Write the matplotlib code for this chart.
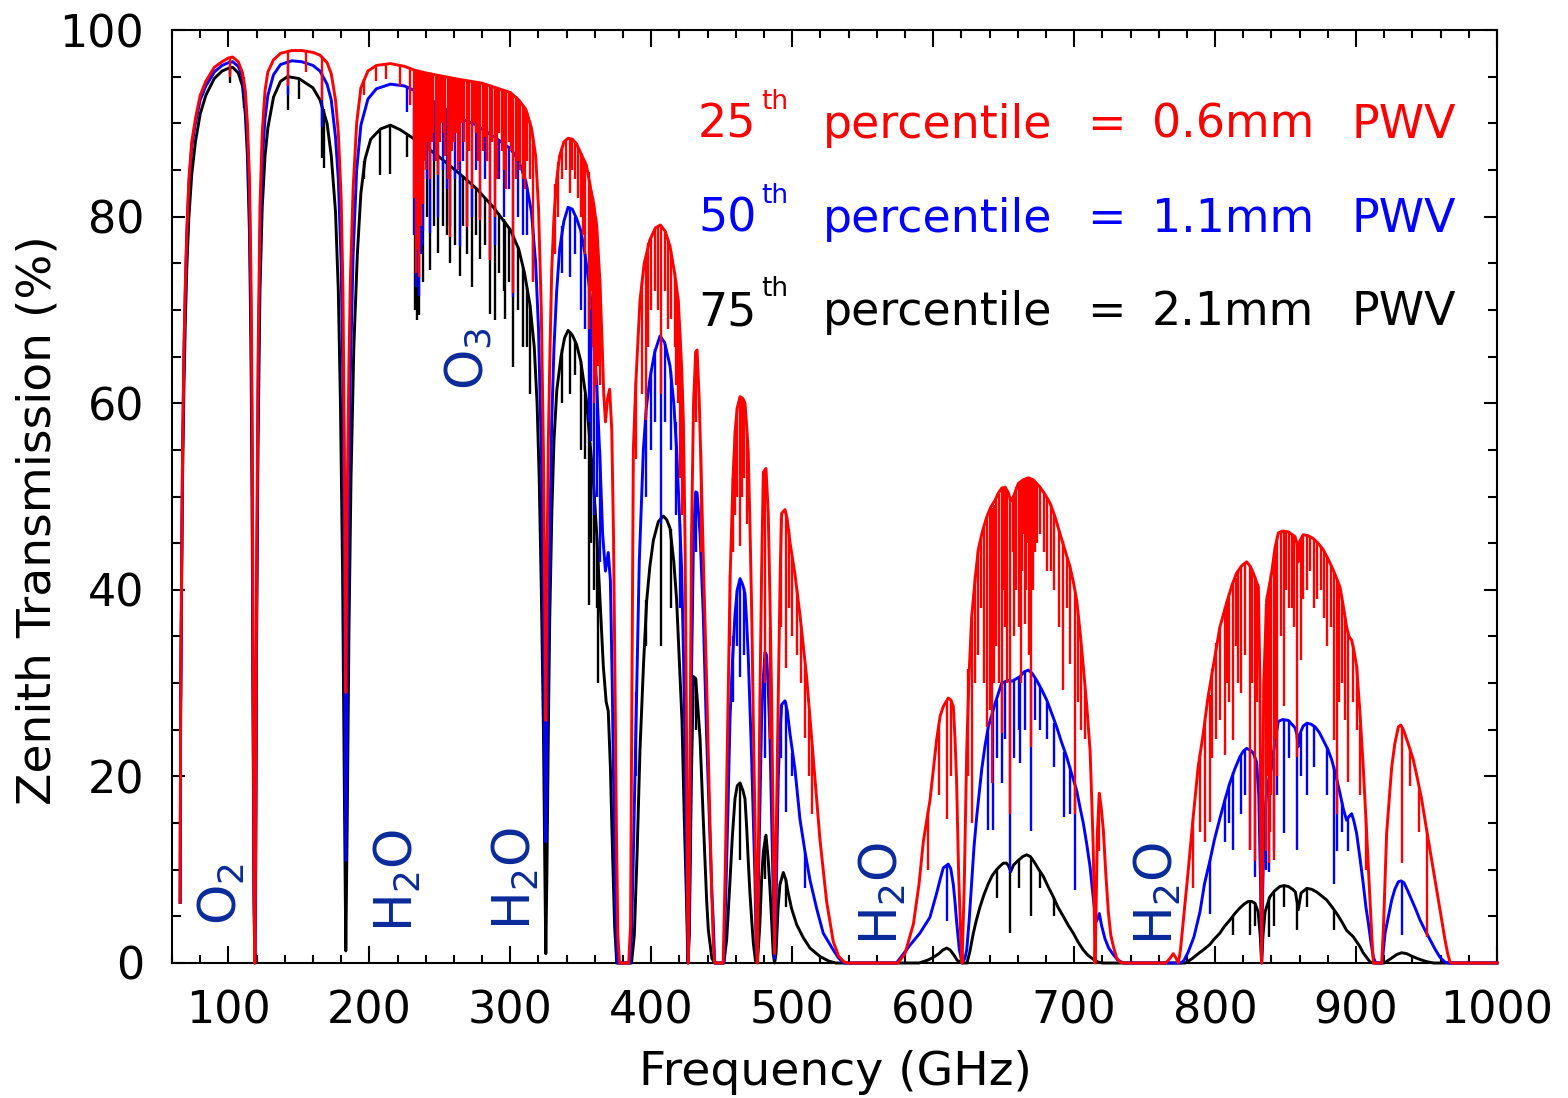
import matplotlib
matplotlib.use("Agg")
import matplotlib.pyplot as plt
from matplotlib.ticker import MultipleLocator

plt.rcParams['font.family'] = ['DejaVu Sans']
plt.rcParams['mathtext.default'] = 'regular'

# ---------------- data (frequency GHz, transmission %) ----------------
red_pts = [(65.8,6.5),(66.1,27),(66.8,42),(67.5,55),(68.5,66),(69.5,73),(70.5,78.5),(72,84),(74,88),(76.6,90.5),(80,93),(84,94.5),(90,96),(95.5,96.6),(100,97.0),(103,97.1),(107,96.6),(110,95.4),(112,93.5),(113.5,90),(115,84),(116,74),(116.8,60),(117.5,35),(118.2,10),(118.75,0),(119.3,12),(120,40),(121,64),(122.4,81),(124,89),(126,93.5),(128,95.5),(132,96.8),(137,97.5),(145,97.8),(152,97.8),(160,97.6),(165,97.3),(170,96.5),(173,95.3),(176,92.5),(178,89),(180,82),(181.3,72),(182.3,55),(183.0,38),(183.3,29),(183.7,38),(184.5,52),(185.5,64),(186.5,73),(188.5,83),(191,90),(194,93.8),(199,95.6),(205,96.2),(215,96.4),(225,96.1),(232,95.7),(240,95.4),(250,95.1),(264,94.7),(280,94.3),(290,93.8),(300,93.3),(306,92.5),(311,91.5),(315,89.5),(318,86.5),(320,81),(322,70),(323.5,55),(324.5,38),(325.2,26),(326,42),(327,56),(328.2,66),(329.4,74.3),(331,80),(332.9,83.9),(335,86.5),(338,88),(341,88.4),(344,88.3),(347,87.8),(350,86.8),(354,85.5),(357,83),(359,81.5),(361.3,79),(363.6,73),(365,67),(366.3,61),(367.5,58),(369,60.5),(370.5,61.5),(372,57),(373.2,46),(374.3,30),(375.3,14),(376.3,3),(377.5,0),(384,0),(385.3,4),(386.3,30),(387.3,55),(389,62),(392,71),(395,75),(399,77.5),(403,78.8),(406.5,79.1),(410,78.4),(413.3,76.8),(416.5,74),(419.2,71),(421.5,64),(422.8,58),(424,45),(425,25),(425.8,5),(426.3,0),(427,10),(428.5,45),(430,60),(431.5,65.5),(432.5,65.7),(434,60.5),(435.5,52),(437.5,40),(439.3,30),(441,19),(442.5,10),(444,2),(445,0),(451,0),(452.5,10),(454.5,28),(456,41.6),(458,52),(459.5,57),(461,59.5),(463,60.7),(465,60.5),(466.5,60),(467.7,57.5),(468.8,54.8),(470,47),(471.3,37.3),(472.5,25),(473.6,15),(474.5,3),(475.2,0),(476,12),(477.1,28.5),(478.3,42),(479.5,52.6),(481.4,53),(483,48.2),(484.2,39),(485.4,28.5),(486.6,13),(487.5,1),(488.5,12),(490.1,28.5),(491.5,42),(492.5,48.2),(494.9,48.6),(496.5,47.5),(498.4,45.1),(502,41.6),(505.5,37.3),(510.2,30.7),(515,21.9),(519.7,13.2),(524.4,6.6),(529.1,2.3),(533,0.7),(537,0.1),(540,0),(575,0),(580,1),(586,4.2),(590,8.5),(593,13),(597.7,17.4),(602.5,24),(605,26.5),(607.2,27.5),(610.7,28.4),(612.5,28.2),(614.3,27.5),(615.5,24),(616.6,19.6),(618,10),(619.5,3),(620.5,0),(622,8),(623.8,22.8),(625.5,31),(627.3,37.1),(630,41.5),(632,44.3),(635,46.3),(638,47.8),(641,48.9),(643.9,49.6),(646,50.3),(648.6,50.9),(651,51),(653.3,50.4),(655,49.5),(657,50),(660.4,51.4),(664,51.8),(667.5,52),(671,51.8),(675.8,51),(679,50.3),(682.9,49.3),(686.5,47.8),(690,46),(694,44),(697,42.5),(699.5,40.8),(701.8,38.9),(704.2,35.5),(706.5,31.8),(709,27.5),(711.3,22.8),(712.5,17.5),(713.6,12.1),(714.3,5),(714.8,0),(715.5,5),(716.5,14),(717.9,18.2),(719.3,16.5),(720.7,14.3),(722.5,9.5),(724.3,5.4),(726,3),(727.8,1.8),(730,0.6),(732.5,0.1),(735,0),(765,0),(768,0.5),(770.3,1.0),(772,0.6),(774,0),(775.5,1.5),(777.5,4.6),(781,10),(784.5,15.7),(788,21),(791.6,24.6),(795,28.5),(798.7,31.8),(803.4,36),(808.2,38.6),(812,40.5),(815.3,41.8),(819,42.6),(822.4,43),(825,42.5),(827.1,41.8),(829,41),(830.7,40.3),(831.8,30),(832.5,10),(833,0),(833.6,10),(834.5,30),(836.6,38.9),(840.1,41.8),(842.5,44.5),(844.9,46.1),(848,46.3),(852,46.2),(856.7,45.7),(858,45),(859,43),(860,45.2),(862.5,45.9),(866,45.8),(869.6,45.5),(873,45),(876.7,44.3),(879.5,43.5),(882.7,42.5),(885.5,41.5),(888.6,40.3),(891,38.2),(893.3,36),(895,35),(896.9,34.6),(898.5,33.5),(900.4,31.8),(902.7,27),(905.1,21),(907,15.5),(908.7,10.3),(910,6.5),(911.1,3.1),(912.3,0),(918.2,0),(919.5,4),(920.6,9),(921.7,13.9),(923.5,17.5),(925.3,21),(927.5,23.5),(930,25.3),(931.8,25.5),(933.6,25.0),(937,23.5),(940.6,21.8),(943.5,19.8),(946.6,17.5),(949.5,14.8),(952.5,12.1),(955.5,9.4),(958.4,6.75),(961,4.4),(963.1,2.5),(965,1),(966.7,0.1),(968,0),(1000,0)]

blue_pts = [(65.8,6.5),(66.1,27),(66.8,42),(67.5,55),(68.5,65.5),(69.5,72.5),(70.5,78),(72,83.5),(74,87.5),(76.6,90),(80,92.5),(84,94),(90,95.5),(95.5,96.2),(100,96.5),(103,96.6),(107,96.1),(110,95),(112,92.5),(113.5,88.5),(115,81),(116,70),(116.8,55),(117.5,30),(118.2,8),(118.75,0),(119.3,10),(120,38),(121,60),(122.4,77),(124,86),(126,90.5),(128,93),(132,95.2),(137,96.3),(145,96.7),(152,96.6),(160,96.2),(165,95.6),(170,94.2),(173,92.5),(176,88.5),(178,84),(180,75),(181.3,62),(182.3,42),(183.0,20),(183.3,11),(183.7,20),(184.5,38),(185.5,52),(186.5,63),(188.5,76),(191,85),(194,89.8),(199,92.6),(205,93.7),(215,94.2),(225,94.0),(232,93.5),(240,92.9),(250,91.9),(264,90.6),(276,89.8),(288,88.6),(300,87.3),(306,86),(311,83.8),(315,80.5),(318,75),(320,68),(322,55),(323.5,38),(324.5,22),(325.2,13),(326,25),(327,37),(328.2,47),(329.4,58),(331,66),(332.9,72),(335,76.5),(338,79.5),(341,81),(344,80.8),(347,79.8),(350,78.5),(353,76),(356.5,72),(359,67),(361.3,62),(363.6,54),(365.5,46),(367.5,42),(369.5,44),(371,41),(372.3,30),(373.5,17),(374.7,6),(376,0),(385,0),(386,3),(387.5,13),(389.6,29),(391.5,43),(394.4,55),(396.5,59.5),(399.1,62.7),(402.5,65.5),(406.2,67.2),(409.5,66.5),(413.3,64),(416,60),(418,55),(420,48),(421.6,42),(423,32),(424,22.8),(425.2,8),(426.2,0),(427,5),(428.5,30),(430,46),(431.5,50.5),(432.5,50.4),(434.6,46),(436.9,37.3),(439.3,24.1),(441.7,13.2),(443,7.5),(444,4.5),(445,0),(451.5,0),(453,8),(454.5,17),(455.9,26.3),(457.5,32),(459.4,37.3),(461,40),(463,41.2),(465,40.5),(466.5,39.6),(467.7,36.5),(468.8,32.9),(470,27.5),(471.2,22),(472.5,15),(473.6,8.9),(474.5,1),(475.5,5),(477,16),(478.3,26.3),(479.5,30.5),(480.7,33.3),(481.8,33),(483,29.5),(484.2,24.1),(485.5,15),(486.7,7),(487.5,0.5),(488.5,6),(490.1,19.8),(491.3,24.5),(492.5,27.7),(494.9,28.1),(496.5,27),(498.4,24.6),(502,20.7),(505.5,15.4),(509.1,11.9),(512.6,8.9),(517.4,5.8),(522,3.2),(529.1,1.4),(533,0.5),(537,0),(574,0),(578,0.8),(583.5,1.9),(590.6,3.2),(597.7,4.9),(602.5,7.5),(605,9),(607.2,10.2),(610.7,10.6),(612.5,10.1),(614.3,8.4),(615.5,6.5),(616.6,4.5),(618.5,1.5),(620.5,0),(622.5,0.5),(623.8,1.4),(625.5,4.5),(627.3,8.6),(629,12.5),(630.9,15.7),(634.4,20.7),(636.8,23.3),(639.1,25.3),(643.9,27.8),(648.6,30),(653.3,30.3),(656,30.2),(661.6,30.7),(664.5,31.2),(667.5,31.4),(670.5,31),(673.4,30.3),(677,29.3),(680.5,28.2),(684,26.8),(687.6,25.3),(691,23.7),(694.7,22.1),(698,20.4),(701.8,18.5),(704,16.8),(706.5,15),(709,12.7),(711.3,10.3),(713,7.8),(714.8,5.3),(716,4.5),(717.9,5.3),(719.5,4),(721.9,2.6),(724.5,1.6),(727.8,0.9),(731,0.3),(735,0),(776,0),(778,0.3),(781,1.2),(785,2.8),(789.3,5.5),(792.5,8.5),(796.4,11),(799.5,13.2),(803.4,15.5),(807,17.5),(810.5,19.3),(814,20.8),(817.6,22.1),(820,22.7),(822.4,23),(825,22.8),(827.1,22.5),(829.5,21.5),(831,18),(832.3,8),(833,0),(833.8,8),(835,15),(836.6,18.5),(840.1,21),(842.5,23.8),(844.9,25.9),(848,26.1),(852,26),(856.8,25.2),(858,24.5),(859,23.2),(860,24.5),(862.5,25.4),(865.1,25.7),(868,25.6),(871,25.3),(874,24.7),(876.7,23.9),(880,22.9),(882.7,21.8),(885.5,20.2),(888.6,18.2),(891,16.5),(893.3,15.3),(895,15.7),(896.9,16),(898.5,15.2),(900.4,13.9),(903,11),(905.1,8.5),(907,6),(908.7,4.3),(910.5,2.3),(912.3,0.6),(914,0),(918.5,0),(920.6,3.2),(923,5),(925.3,6.75),(927.5,7.9),(930,8.7),(932,8.8),(934,8.6),(936.5,7.8),(939.5,6.75),(942.5,5.7),(945.4,4.6),(949,3.5),(952.5,2.5),(956,1.5),(959.6,0.6),(963,0.1),(966,0),(1000,0)]

black_pts = [(65.8,6.5),(66.1,26),(66.8,40),(67.5,52),(68.5,62),(69.5,69),(70.5,74.5),(72,80),(74,84.5),(76.6,88),(80,91),(84,93),(90,94.8),(95.5,95.6),(100,95.9),(103,96),(107,95.4),(110,94),(112,91),(113.5,86.5),(115,78),(116,66),(116.8,50),(117.5,26),(118.2,6),(118.75,0),(119.3,8),(120,34),(121,55),(122.4,72),(124,81),(126,86.5),(128,89.5),(132,92.8),(137,94.5),(142,95.0),(150,94.8),(160,93.8),(165,92.5),(170,90),(173,86.5),(176,80.5),(178,72),(179.5,60),(181,42),(182.3,18),(183.3,1.3),(184.3,15),(185.5,35),(187,52),(189,66),(191.5,76),(194,82.5),(197,86.2),(201,88.3),(208,89.4),(215,89.8),(222,89.3),(230,88.5),(240,87.5),(252,86.1),(264,84.6),(276,83),(288,81),(300,78.6),(306,76.5),(310,74),(314,70.5),(317,66),(319,60),(320.5,52),(322,40),(323.5,25),(324.5,10),(325.2,1),(326,10),(327,25),(328,37),(329.5,48.5),(331,56),(333,61.4),(336,65),(338.5,67),(341,67.8),(344,67.3),(347,66.3),(350,64.5),(354,60.3),(357,55),(359,51.5),(361.3,46),(363.6,39),(366,31.8),(368,28),(369.5,27),(371,21),(372.5,12),(374,4),(375.5,0),(386,0),(388,3),(390,12),(392,22.8),(394.5,32),(396.8,38.9),(399,42.5),(401.5,45.3),(405,47.3),(408.6,47.9),(411,47.5),(413.3,46.6),(416,43),(418,38.9),(420,32),(421.8,26),(423.5,15),(425,6.7),(426,0),(427,3),(428.5,20),(429.9,30.7),(431.5,30.5),(433,27.5),(434.6,24.1),(436.9,15.4),(439.3,6.7),(440.5,3.5),(441.5,2.3),(443,0.5),(445,0),(451.5,0),(453.5,2.5),(455.9,8.9),(457.5,13.5),(459.4,17.6),(461,19),(463,19.3),(465,18.5),(466.5,17.6),(467.7,14.5),(468.8,11),(470,7.5),(471.3,4.5),(472.5,2),(474,0.2),(475.5,0.5),(477,4),(478.3,9),(479.5,11.9),(481.4,13.7),(483,11),(484.2,8),(485.4,4.5),(486.5,1),(487.5,0),(488.5,1),(490,6),(491.3,8.4),(493.7,9.7),(495.5,8.9),(497,7.6),(499.6,5.8),(503.2,4.1),(507.9,2.7),(512.6,1.6),(519.7,0.7),(526,0.2),(531,0),(590,0),(596,0.3),(600,0.6),(604,1),(607,1.4),(609.5,1.6),(612,1.4),(614.5,0.9),(617,0.3),(620.5,0),(624,0),(626,1.2),(628.5,3.2),(630.5,4.5),(633.2,6),(636,7.3),(639.1,8.5),(642,9.4),(645,10),(647.5,10.4),(649.8,10.7),(652,10.7),(653.5,10.4),(655,9.8),(657,10.5),(660.4,11),(663.5,11.4),(666.3,11.6),(669,11.4),(672.2,10.7),(675,10),(678.1,9.3),(681.5,8.2),(685.2,7.1),(688.5,6),(692.3,5),(696,4),(699.4,3.2),(703,2.2),(706.5,1.4),(710,0.8),(713.6,0.4),(717,0.1),(720,0),(779,0),(784,0.5),(788,1),(791.6,1.4),(796.4,2),(799,2.5),(803.4,3.2),(806.5,3.9),(810.5,4.6),(814,5.3),(817.6,5.9),(820.5,6.3),(823.5,6.6),(826,6.6),(828.3,6.4),(830.5,5.5),(832,3),(833,0),(834,3),(835.5,5.5),(838.9,7.1),(842,7.7),(846,8.2),(849,8.3),(852,8.2),(855,7.9),(857,7.6),(859,5.7),(861,7.5),(865.1,8),(868.5,7.9),(872.2,7.6),(875.5,7.2),(879.2,6.75),(882.5,6.1),(886.3,5.3),(890,4.4),(893.3,3.5),(898.1,2.8),(902.8,1.75),(905,1.1),(907.5,0.6),(910,0.1),(912,0),(920,0),(924,0.4),(928.8,0.9),(932.3,1.1),(936,1.0),(940,0.7),(945,0.4),(950,0.15),(955,0),(1000,0)]

# narrow absorption lines: (frequency, bottom %, top %)
red_lines = [(101.5,95.0,97.0),(142.5,94.0,97.7),(155.0,95.5,97.8),(166.2,92.5,97.2),
(196.0,93.0,94.8),(205.0,94.5,96.2),(212.0,94.8,96.4),(222.0,94.0,96.2),(228.5,92.0,96.0),
(232.0,82.0,95.8),(233.3,74.0,95.7),(234.3,76.5,95.6),(235.2,73.5,95.6),(236.3,79.0,95.5),(237.3,82.0,95.5),(238.3,81.4,95.4),(239.5,86.0,95.4),(240.2,85.0,95.4),(241.0,88.0,95.3),(242.0,87.0,95.3),(243.0,84.0,95.3),(244.2,88.0,95.2),(245.5,89.0,95.2),(247.0,86.0,95.2),(248.9,84.5,95.1),(250.0,88.0,95.1),(251.5,90.0,95.1),(253.0,89.0,95.0),(254.0,86.5,95.0),(255.5,84.0,95.0),(257.2,77.8,95.0),(258.5,87.0,94.9),(260.0,88.0,94.9),(261.5,89.0,94.9),(263.0,85.0,94.8),(264.5,86.0,94.7),(266.0,90.0,94.6),(267.5,88.0,94.6),(269.0,78.9,94.5),(270.8,87.0,94.5),(272.6,83.0,94.4),(274.0,90.0,94.4),(275.5,89.0,94.4),(277.0,86.0,94.3),(278.5,79.6,94.3),(280.3,87.0,94.2),(282.0,88.5,94.1),(283.8,86.0,94.0),(285.6,75.3,93.9),(287.3,88.0,93.9),(289.1,80.0,93.8),(290.5,84.0,93.8),(292.0,89.0,93.7),(293.8,87.0,93.6),(295.5,85.0,93.5),(297.2,83.0,93.4),(299.0,88.0,93.4),(300.5,87.0,93.2),(302.1,71.8,93.0),(303.8,84.0,92.9),(305.5,86.0,92.6),(307.2,85.0,92.3),(309.0,84.0,91.9),(310.5,83.0,91.6),(312.0,86.0,91.2),(314.0,84.0,90.2),(316.3,73.0,88.5),
(332.0,76.0,83.5),(334.0,80.0,85.8),(337.0,84.0,87.5),(339.5,85.0,88.2),(342.0,82.5,88.4),(344.0,85.0,88.3),(346.0,84.0,87.9),(348.0,82.0,87.5),(350.0,80.0,86.8),(351.5,78.0,86.2),(353.0,76.0,85.8),(355.5,68.0,84.8),(356.5,70.0,83.7),(357.5,72.0,82.8),(358.5,66.0,82.0),(359.5,60.0,81.0),(360.5,62.0,80.0),(361.5,66.0,78.5),(362.5,64.0,76.0),(363.5,62.0,73.3),
(389.5,54.0,62.5),(393.5,61.0,73.0),(396.0,58.2,75.6),(398.0,66.0,77.2),(400.0,70.0,77.8),(403.0,72.0,78.8),(405.0,70.0,79.0),(406.8,61.0,79.0),(410.0,72.0,78.4),(412.0,68.0,77.6),(414.0,69.0,76.3),(416.5,66.0,74.0),(417.5,62.0,73.2),(419.0,60.0,71.2),(420.5,52.0,67.5),(422.0,48.0,62.0),(431.5,58.0,65.5),(435.0,44.0,55.0),
(456.0,34.0,41.6),(458.0,44.0,52.0),(459.5,48.0,57.0),(461.0,50.0,59.5),(463.0,44.7,60.7),(464.5,50.0,60.6),(466.0,52.0,60.2),(468.0,47.0,56.8),(480.7,30.0,53.0),(484.5,24.0,36.0),(492.3,36.0,47.8),(495.5,31.6,48.2),(497.5,38.0,46.5),(500.0,35.0,43.5),(503.5,33.0,40.0),(506.5,30.0,36.2),(509.1,24.1,31.8),(512.0,20.0,27.0),(514.0,16.0,23.5),
(596.0,10.0,16.3),(604.0,18.0,25.5),(609.5,15.4,28.2),(612.5,20.0,28.2),(625.0,20.0,31.5),(627.3,15.0,37.1),(630.0,30.0,41.5),(632.0,33.0,44.3),(634.0,38.0,45.5),(636.0,30.0,46.7),(638.0,25.3,47.8),(640.4,27.1,48.5),(641.6,19.3,48.8),(642.8,30.0,49.1),(644.5,34.0,49.8),(646.5,30.0,50.3),(648.6,24.6,50.9),(650.0,40.0,51.0),(651.0,36.0,51.0),(652.3,30.0,50.7),(654.7,16.0,49.8),(656.3,44.0,49.8),(657.5,35.0,50.2),(659.0,40.0,51.0),(660.9,36.0,51.4),(662.0,30.0,51.6),(663.0,42.0,51.7),(664.3,46.0,51.8),(665.1,36.3,51.9),(666.2,40.0,51.9),(667.0,45.0,52.0),(668.2,33.0,52.0),(669.2,23.2,51.9),(670.5,40.0,51.8),(672.0,44.0,51.7),(674.0,45.0,51.3),(676.0,46.0,51.0),(678.5,44.0,50.5),(681.0,42.0,49.9),(683.5,42.0,49.2),(686.0,40.0,48.0),(689.0,36.0,46.4),(692.3,29.3,45.2),(695.0,38.0,43.5),(697.0,32.0,42.5),(700.6,16.0,39.8),(702.5,28.0,37.8),(705.0,25.0,34.2),(708.0,24.0,29.5),(717.5,12.0,18.2),
(784.0,8.0,15.5),(789.0,14.0,22.5),(793.0,13.0,26.0),(796.4,15.1,28.7),(798.0,22.0,31.5),(801.0,24.0,34.3),(803.5,26.0,36.0),(806.9,22.3,38.2),(808.5,30.0,38.8),(810.0,28.0,39.7),(812.8,23.9,40.8),(814.5,34.0,41.3),(816.0,30.0,42.0),(818.7,28.9,42.6),(821.0,33.0,42.9),(824.6,12.1,42.7),(826.5,30.0,42.0),(828.2,10.9,41.5),(830.0,28.0,40.6),(836.0,12.0,38.5),(837.0,20.0,39.4),(838.3,10.7,40.0),(839.2,14.0,40.8),(840.0,18.0,41.8),(841.9,11.0,43.2),(843.0,24.0,44.6),(844.0,20.0,45.8),(846.5,35.0,46.2),(848.9,27.5,46.3),(850.5,40.0,46.3),(852.5,38.0,46.2),(854.5,38.0,46.0),(856.0,36.0,45.8),(858.4,22.1,44.3),(860.8,32.5,45.4),(862.5,39.0,45.9),(865.4,40.0,45.8),(867.5,42.0,45.7),(870.0,38.0,45.4),(872.5,39.0,45.2),(875.0,40.0,44.7),(877.5,37.0,44.1),(879.5,34.0,43.5),(882.0,36.0,42.7),(884.4,23.9,41.8),(886.3,16.0,41.1),(888.0,28.0,40.5),(890.0,30.0,39.2),(892.0,26.0,37.2),(894.5,19.4,35.5),(897.5,28.0,34.2),(900.5,25.0,31.8),(903.0,18.0,25.5),(907.0,10.0,15.5),(932.3,10.7,25.2),(938.0,19.0,23.0),(945.0,14.0,18.5),(950.0,2.8,14.2)]

blue_lines = [(101.5,95.3,96.5),(110.8,92.9,95.0),(142.5,93.0,96.6),(166.2,89.6,95.4),(226.5,91.2,94.0),
(232.0,78.0,93.5),(233.3,72.5,93.4),(234.3,74.0,93.3),(235.2,71.5,93.2),(236.3,76.0,93.2),(237.3,77.0,93.1),(238.3,78.5,93.0),(241.0,84.0,92.9),(243.0,78.2,92.6),(246.0,86.0,92.4),(248.9,80.0,92.0),(252.0,85.0,91.8),(255.0,83.0,91.5),(257.2,79.0,91.3),(260.5,84.0,91.0),(264.3,76.8,90.6),(266.5,86.0,90.5),(269.0,79.0,90.4),(272.6,80.0,90.2),(275.5,85.0,90.0),(278.5,80.0,89.6),(282.0,84.0,89.4),(285.6,75.3,89.0),(289.1,77.0,88.6),(292.0,84.0,88.3),(295.5,80.0,88.0),(299.0,83.0,87.5),(302.1,71.4,86.7),(305.5,80.0,86.3),(309.0,78.0,84.8),(312.0,78.0,83.3),(316.3,73.2,79.5),
(337.0,74.0,79.0),(342.0,73.5,80.8),(346.0,76.0,80.0),(350.0,70.0,78.5),(353.0,68.0,76.0),(355.5,58.0,73.5),(357.5,56.0,70.5),(359.5,48.0,67.0),(361.5,50.0,62.0),(363.5,43.0,55.0),
(389.5,20.0,29.0),(396.0,50.0,59.0),(400.0,55.0,63.5),(403.0,58.0,65.8),(406.8,47.0,67.2),(410.0,58.0,66.3),(414.0,55.0,63.5),(417.5,48.0,58.0),(420.5,38.0,47.0),(431.5,44.0,50.5),
(458.0,28.0,35.0),(461.0,34.0,40.0),(463.0,30.7,41.2),(466.0,33.0,40.2),(480.7,22.0,33.3),(492.3,22.0,27.7),(495.5,16.2,28.0),(500.0,20.0,22.5),(509.1,8.0,11.9),
(609.5,4.5,10.5),(639.1,14.3,25.3),(642.7,14.3,27.2),(645.0,22.0,28.2),(648.6,19.3,30.0),(651.0,24.0,30.2),(654.7,9.6,30.2),(657.5,22.0,30.4),(660.9,25.0,30.6),(661.6,21.4,30.7),(665.1,25.0,31.3),(669.2,14.1,31.3),(672.0,26.0,30.6),(676.0,25.0,29.6),(681.0,24.0,28.0),(686.0,21.0,25.7),(693.0,15.7,22.6),(697.0,16.0,21.1),(700.6,7.8,19.0),
(796.4,5.3,11.0),(806.9,13.0,17.5),(810.0,15.0,19.2),(812.8,12.1,20.5),(818.7,16.0,22.2),(821.0,18.0,22.8),(824.6,12.1,22.9),(828.2,9.2,22.1),(836.0,10.0,17.5),(838.3,9.7,19.8),(841.9,12.0,22.0),(844.0,18.0,25.8),(848.9,13.9,26.1),(852.5,22.0,26.0),(858.4,12.1,24.3),(860.8,20.0,24.7),(865.4,18.0,25.7),(870.0,21.0,25.3),(879.5,18.0,23.2),(884.4,8.5,21.1),(886.3,12.0,20.2),(890.0,14.0,17.3),(894.5,12.0,15.5),(932.3,3.0,8.8)]

black_lines = [(101.5,94.3,95.9),(110.8,91.6,94.0),(142.5,91.4,95.0),(149.9,92.6,94.9),(166.2,86.3,92.2),(168.0,85.2,91.5),
(196.0,84.0,86.0),(207.6,84.5,89.3),(214.7,84.6,89.8),(226.5,86.4,88.9),
(232.5,70.0,88.4),(233.6,68.9,88.3),(234.6,71.0,88.2),(235.5,69.5,88.1),(237.2,76.1,87.9),(238.3,73.0,87.8),(241.0,80.0,87.4),(243.0,74.3,87.2),(246.0,79.0,86.8),(248.9,76.1,86.6),(252.0,79.0,86.1),(255.0,78.0,85.8),(257.2,75.0,85.5),(260.5,77.0,85.0),(264.3,73.6,84.6),(266.5,79.0,84.3),(269.0,76.0,84.0),(272.6,72.5,83.5),(275.5,78.0,83.1),(278.5,75.5,82.7),(282.0,77.0,82.0),(285.6,69.6,81.5),(289.1,68.9,81.0),(292.0,74.0,80.4),(295.5,72.0,79.7),(296.0,69.0,79.5),(299.0,73.0,78.8),(302.1,63.9,78.1),(305.5,70.0,76.8),(309.0,66.0,74.6),(312.0,66.0,72.3),(314.0,61.0,70.5),
(337.0,60.0,65.8),(342.0,61.0,67.7),(346.0,63.0,66.7),(350.0,55.0,64.5),(353.0,54.0,61.0),(355.5,38.4,58.5),(357.5,45.0,54.0),(359.5,40.0,50.5),(361.5,38.0,45.5),(362.5,30.0,43.0),
(396.0,34.0,38.9),(406.8,34.0,47.8),(414.0,38.0,46.5),(431.5,25.0,30.5),
(463.0,11.0,19.3),(480.7,9.0,13.6),(495.5,6.0,8.9),
(645.0,7.0,10.0),(654.7,3.2,9.8),(661.0,8.0,11.1),(669.2,5.0,11.4),(676.0,8.0,9.8),(686.0,5.0,7.0),
(812.8,3.0,4.9),(824.6,3.0,6.6),(828.2,4.0,6.4),(838.3,2.8,7.1),(841.9,4.0,7.6),(848.9,6.0,8.3),(858.4,3.5,6.3),(865.4,6.0,8.0),(884.4,3.5,5.6)]

series_colors = ['black', '#0000ff', '#ff0000']
legend_pct = ['25', '50', '75']
legend_pwv = ['0.6mm', '1.1mm', '2.1mm']
legend_colors = ['#ff0000', '#0000ff', 'black']

# molecule labels: (text, frequency, transmission at label bottom)
mol_labels = [(r'O$_2$', 95.5, 4.1), (r'H$_2$O', 220.3, 3.3), (r'H$_2$O', 304.0, 3.5),
              (r'O$_3$', 270.0, 61.4), (r'H$_2$O', 564.4, 1.9), (r'H$_2$O', 759.5, 1.9)]
mol_color = '#0a2a9a'

x_ticks = list(range(100, 1001, 100))
y_ticks = list(range(0, 101, 20))

# ---------------- figure ----------------
W, H = 1568, 1098
fig = plt.figure(figsize=(W / 100, H / 100), dpi=100)
ax = fig.add_axes([172 / W, 1 - 963 / H, (1497 - 172) / W, (963 - 30) / H])

for pts, lines, col in [(black_pts, black_lines, series_colors[0]),
                        (blue_pts, blue_lines, series_colors[1]),
                        (red_pts, red_lines, series_colors[2])]:
    f, t = zip(*pts)
    ax.plot(f, t, color=col, lw=2.1, clip_on=False, zorder=3)
    lf, lo, hi = zip(*lines)
    ax.vlines(lf, lo, hi, colors=col, lw=1.7, zorder=3)

ax.set_xlim(60, 1000)
ax.set_ylim(0, 100)
ax.set_xticks(x_ticks)
ax.set_yticks(y_ticks)
ax.xaxis.set_minor_locator(MultipleLocator(20))
ax.yaxis.set_minor_locator(MultipleLocator(5))
ax.tick_params(which='both', direction='in', top=True, right=True, width=1.5,
               labelsize=32, colors='black')
ax.tick_params(axis='x', which='major', length=12, pad=19)
ax.tick_params(axis='x', which='minor', length=6)
ax.tick_params(axis='y', which='major', length=9.5, pad=20)
ax.tick_params(axis='y', which='minor', length=6.5)
for s in ax.spines.values():
    s.set_linewidth(1.5)

for txt, fx, ty in mol_labels:
    ax.text(fx, ty, txt, rotation=90, ha='center', va='bottom', fontsize=37,
            color=mol_color, zorder=5)

fig.text(835 / W, 1 - 1085 / H, 'Frequency (GHz)', ha='center', va='baseline', fontsize=34)
fig.text(38 / W, 1 - 520 / H, 'Zenith Transmission (%)', rotation=90, ha='center',
         va='center', fontsize=34)

row_base = [138, 232, 325]
for i in range(3):
    yb = 1 - row_base[i] / H
    ysup = 1 - (row_base[i] - 29) / H
    c = legend_colors[i]
    fig.text(698 / W, yb, legend_pct[i], fontsize=33, color=c, va='baseline')
    fig.text(761 / W, ysup, 'th', fontsize=19, color=c, va='baseline')
    fig.text(823 / W, yb, 'percentile', fontsize=33, color=c, va='baseline')
    fig.text(1087 / W, yb, '=', fontsize=33, color=c, va='baseline')
    fig.text(1152 / W, yb, legend_pwv[i], fontsize=33, color=c, va='baseline')
    fig.text(1352 / W, yb, 'PWV', fontsize=33, color=c, va='baseline')

fig.savefig('out.png', dpi=100)
